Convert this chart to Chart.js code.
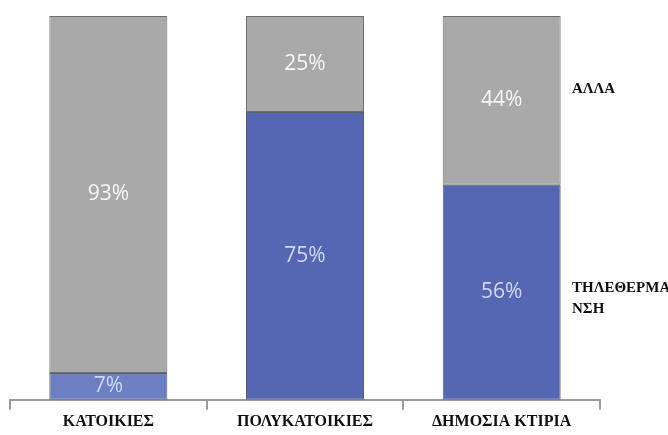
<!DOCTYPE html>
<html>
<head>
<meta charset="utf-8">
<script src="https://cdn.jsdelivr.net/npm/chart.js@4/dist/chart.umd.min.js"></script>
<style>
  html, body { margin: 0; padding: 0; background: #fff; }
  #wrap { width: 668px; height: 435px; position: relative; }
</style>
</head>
<body>
<div id="wrap"><canvas id="chart" width="668" height="435"></canvas></div>
<script>
const categories = ["ΚΑΤΟΙΚΙΕΣ", "ΠΟΛΥΚΑΤΟΙΚΙΕΣ", "ΔΗΜΟΣΙΑ ΚΤΙΡΙΑ"];
const districtHeating = [7, 75, 56];
const other = [93, 25, 44];
const seriesNames = ["ΤΗΛΕΘΕΡΜΑ\nΝΣΗ", "ΑΛΛΑ"];
// value on the y scale where each legend label sits
const legendAt = [29, 81];

const valueLabels = {
  id: "valueLabels",
  afterDatasetsDraw(chart) {
    const ctx = chart.ctx;
    ctx.save();
    ctx.font = "21px 'Open Sans', sans-serif";
    ctx.textAlign = "center";
    ctx.textBaseline = "middle";
    chart.data.datasets.forEach((ds, i) => {
      chart.getDatasetMeta(i).data.forEach((bar, j) => {
        const p = bar.getProps(["x", "y", "base"], true);
        ctx.fillStyle = i === 0 ? "#cfd9f3" : "#f6f6f6";
        ctx.fillText(ds.data[j] + "%", p.x, (p.y + p.base) / 2);
      });
    });
    ctx.restore();
  }
};

const sideLegend = {
  id: "sideLegend",
  afterDraw(chart) {
    const ctx = chart.ctx;
    const y = chart.scales.y;
    ctx.save();
    ctx.font = "bold 15px 'Liberation Serif', serif";
    ctx.fillStyle = "#111";
    ctx.textAlign = "left";
    ctx.textBaseline = "middle";
    seriesNames.forEach((name, i) => {
      name.split("\n").forEach((line, k) => {
        ctx.fillText(line, chart.chartArea.right - 28, y.getPixelForValue(legendAt[i]) + k * 21);
      });
    });
    ctx.restore();
  }
};

new Chart(document.getElementById("chart").getContext("2d"), {
  type: "bar",
  data: {
    labels: categories,
    datasets: [
      {
        label: "ΤΗΛΕΘΕΡΜΑΝΣΗ",
        data: districtHeating,
        backgroundColor: ["#6b7fc2", "#5567b2", "#5567b2"],
        borderColor: "#5c5f6e",
        borderWidth: 1,
        borderSkipped: false
      },
      {
        label: "ΑΛΛΑ",
        data: other,
        backgroundColor: "#a9a9aa",
        borderColor: "#6e6e6e",
        borderWidth: 1,
        borderSkipped: false
      }
    ]
  },
  options: {
    responsive: false,
    animation: false,
    layout: { padding: { left: 10, right: 68, top: 16, bottom: 2 } },
    datasets: { bar: { categoryPercentage: 1, barPercentage: 0.6 } },
    plugins: { legend: { display: false }, tooltip: { enabled: false } },
    scales: {
      x: {
        stacked: true,
        offset: true,
        grid: {
          offset: true,
          drawOnChartArea: false,
          drawTicks: true,
          tickLength: 10,
          color: "#9a9a9a",
          lineWidth: 2
        },
        border: { color: "#9a9a9a", width: 2 },
        ticks: {
          color: "#111",
          padding: 2,
          font: { family: "'Liberation Serif', serif", weight: "bold", size: 16 }
        }
      },
      y: { stacked: true, display: false, min: 0, max: 100 }
    }
  },
  plugins: [valueLabels, sideLegend]
});
</script>
</body>
</html>
